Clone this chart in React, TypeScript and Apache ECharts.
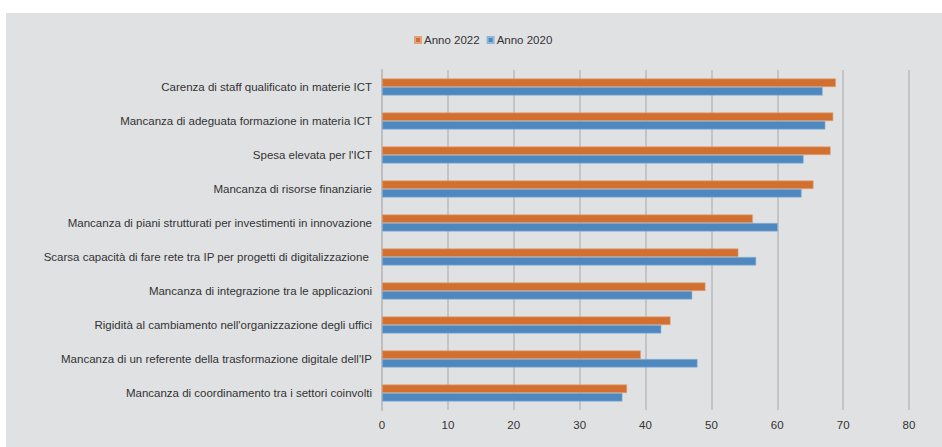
import React, { useEffect, useRef } from "react";
import * as echarts from "echarts";

const categories = [
  "Carenza di staff qualificato in materie ICT",
  "Mancanza di adeguata formazione in materia ICT",
  "Spesa elevata per l'ICT",
  "Mancanza di risorse finanziarie",
  "Mancanza di piani strutturati per investimenti in innovazione",
  "Scarsa capacità di fare rete tra IP per progetti di digitalizzazione ",
  "Mancanza di integrazione tra le applicazioni",
  "Rigidità al cambiamento nell'organizzazione degli uffici",
  "Mancanza di un referente della trasformazione digitale dell'IP",
  "Mancanza di coordinamento tra i settori coinvolti",
];
const anno2022 = [68.9, 68.5, 68.1, 65.5, 56.3, 54.1, 49.1, 43.8, 39.3, 37.2];
const anno2020 = [66.9, 67.3, 64.0, 63.7, 60.1, 56.8, 47.1, 42.4, 47.9, 36.5];
const xTicks = { min: 0, max: 80, interval: 10 };

export default function App() {
  const ref = useRef<HTMLDivElement>(null);
  useEffect(() => {
    if (!ref.current) return;
    const chart = echarts.init(ref.current, undefined, { renderer: "svg" });
    const font = "Liberation Sans, Arial, sans-serif";
    chart.setOption({
      animation: false,
      backgroundColor: "#ffffff",
      textStyle: { fontFamily: font },
      graphic: [
        {
          type: "rect",
          z: -10,
          silent: true,
          shape: { x: 6, y: 13, width: 936, height: 434 },
          style: { fill: "#E0E1E3" },
        },
      ],
      legend: {
        top: 29,
        left: 409,
        itemWidth: 6,
        itemHeight: 6,
        itemGap: 7,
        icon: "rect",
        textStyle: { fontSize: 11.5, color: "#333333", fontFamily: font, padding: [0, 0, 0, -2] },
        data: ["Anno 2022", "Anno 2020"],
      },
      grid: { left: 382, right: 33, top: 70, bottom: 37, containLabel: false },
      xAxis: {
        type: "value",
        min: xTicks.min,
        max: xTicks.max,
        interval: xTicks.interval,
        axisLine: { show: false },
        axisTick: { show: false },
        splitLine: { lineStyle: { color: "#C3C4C6", width: 2 } },
        axisLabel: { color: "#333333", fontSize: 11.5, fontFamily: font, margin: 9 },
      },
      yAxis: {
        type: "category",
        inverse: true,
        data: categories,
        axisLine: { show: true, lineStyle: { color: "#BDBEC0", width: 2 } },
        axisTick: { show: false },
        axisLabel: { color: "#333333", fontSize: 11.5, fontFamily: font, margin: 10 },
      },
      series: [
        {
          name: "Anno 2022",
          type: "bar",
          data: anno2022,
          barWidth: 8.5,
          barGap: "0%",
          itemStyle: { color: "#D2702F", borderColor: "#E0A27E", borderWidth: 0.6 },
        },
        {
          name: "Anno 2020",
          type: "bar",
          data: anno2020,
          barWidth: 8.5,
          itemStyle: { color: "#4F88BF", borderColor: "#90B5D9", borderWidth: 0.6 },
        },
      ],
    });
    return () => chart.dispose();
  }, []);
  return (
    <div style={{ position: "fixed", left: 0, top: 0, width: 942, height: 447, background: "#fff" }}>
      <div ref={ref} style={{ width: 942, height: 447 }} />
    </div>
  );
}
